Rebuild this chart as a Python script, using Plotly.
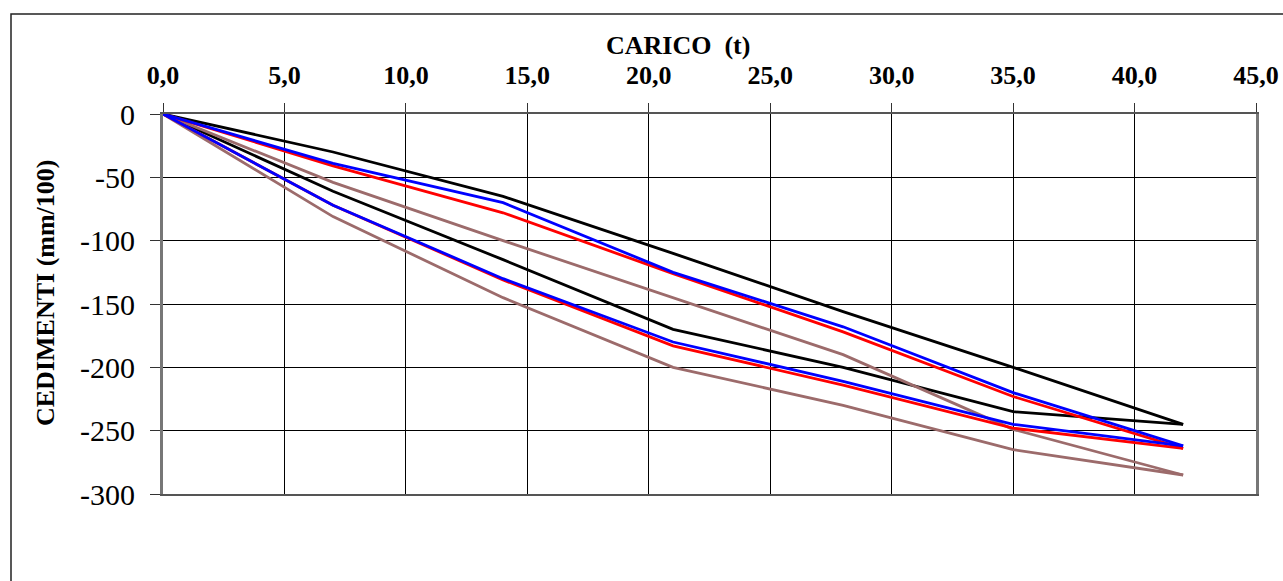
import plotly.graph_objects as go

carico = [0, 7, 14, 21, 28, 35, 42]

black_upper = [0, -30, -65, -110, -156, -200, -245]
black_lower = [0, -61, -115, -170, -200, -235, -245]
blue_upper = [0, -39, -70, -125, -168, -220, -262]
blue_lower = [0, -72, -130, -180, -211, -245, -262]
red_upper = [0, -41, -78, -126, -172, -223, -264]
red_lower = [0, -72, -131, -183, -214, -248, -264]
brown_upper = [0, -54, -100, -145, -190, -249, -285]
brown_lower = [0, -81, -145, -200, -230, -265, -285]

x_ticks = [0, 5, 10, 15, 20, 25, 30, 35, 40, 45]
x_labels = ["0,0", "5,0", "10,0", "15,0", "20,0", "25,0", "30,0", "35,0", "40,0", "45,0"]
y_ticks = [0, -50, -100, -150, -200, -250, -300]
y_labels = ["0", "-50", "-100", "-150", "-200", "-250", "-300"]

series = [
    (black_upper, "#000000"), (black_lower, "#000000"),
    (brown_upper, "#9c6b6b"), (brown_lower, "#9c6b6b"),
    (red_upper, "#ff0000"), (red_lower, "#ff0000"),
    (blue_upper, "#0000ff"), (blue_lower, "#0000ff"),
]

fig = go.Figure()
for vals, col in series:
    fig.add_trace(go.Scatter(x=carico, y=vals, mode="lines",
                             line=dict(color=col, width=2.8), showlegend=False,
                             hoverinfo="skip"))

W, H = 1283, 581
L, R, T, B = 163, 1283 - 1256, 114, 581 - 494
pw, ph = W - L - R, H - T - B

fig.update_layout(
    width=W, height=H,
    margin=dict(l=L, r=R, t=T, b=B, autoexpand=False),
    paper_bgcolor="white", plot_bgcolor="white",
    font=dict(family="Liberation Serif, Times New Roman, serif", color="black"),
    xaxis=dict(side="top", range=[0, 45], tickvals=x_ticks,
               ticktext=["<b>%s</b>" % t for t in x_labels],
               tickfont=dict(size=26, family="Liberation Serif", color="black"),
               ticks="outside", ticklen=9, tickcolor="#333", tickwidth=1,
               ticklabelstandoff=9,
               showgrid=True, gridcolor="#000", gridwidth=1,
               showline=True, linecolor="#555", linewidth=2, mirror=True,
               zeroline=False, fixedrange=True, automargin=False),
    yaxis=dict(range=[-300, 0], tickvals=y_ticks, ticktext=y_labels,
               tickfont=dict(size=30, family="Liberation Serif", color="black"),
               ticks="outside", ticklen=10, tickcolor="#333", tickwidth=1,
               ticklabelstandoff=9,
               showgrid=True, gridcolor="#000", gridwidth=1,
               showline=True, linecolor="#777", linewidth=3, mirror=True,
               zeroline=False, fixedrange=True, automargin=False),
    shapes=[dict(type="rect", xref="paper", yref="paper",
                 x0=(11 - L) / pw, x1=(1283 - L + 5) / pw,
                 y0=(494 - 590) / ph, y1=(494 - 14) / ph,
                 line=dict(color="#222", width=1.5), layer="below")],
    annotations=[
        dict(text="<b>CARICO  (t)</b>", xref="paper", yref="paper",
             x=(678 - L) / pw, y=(494 - 45) / ph, xanchor="center", yanchor="middle",
             showarrow=False, font=dict(size=26, family="Liberation Serif", color="black")),
        dict(text="<b>CEDIMENTI (mm/100)</b>", xref="paper", yref="paper",
             x=(45 - L) / pw, y=(494 - 293) / ph, xanchor="center", yanchor="middle",
             textangle=-90, showarrow=False,
             font=dict(size=26, family="Liberation Serif", color="black")),
    ],
)

fig.write_html("out.html", config={"displayModeBar": False},
               post_script="document.body.style.margin='0';document.body.style.overflow='hidden';")
